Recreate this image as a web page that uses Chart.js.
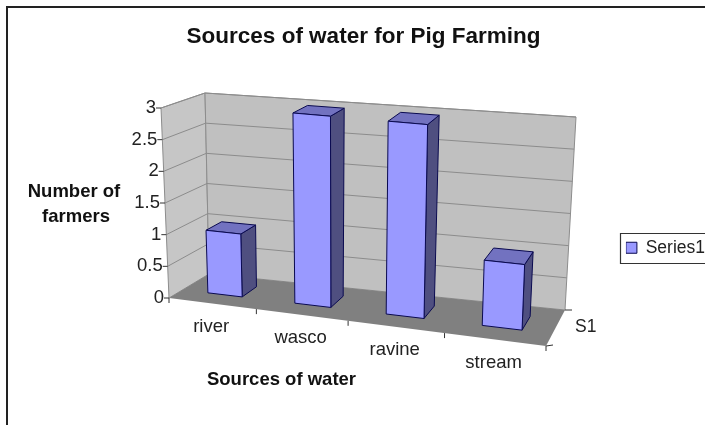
<!DOCTYPE html>
<html><head><meta charset="utf-8">
<script src="https://cdn.jsdelivr.net/npm/chart.js@4"></script>
<style>html,body{margin:0;padding:0;background:#fff}canvas{display:block;filter:blur(0.55px)}</style>
</head><body><canvas id="c" width="705" height="425"></canvas>
<script>
const categories = ['river', 'wasco', 'ravine', 'stream'];
const seriesName = 'Series1';
const seriesValues = [1, 3, 3, 1];
const valueTicks = [0, 0.5, 1, 1.5, 2, 2.5, 3];
const chartTitle = 'Sources of water for Pig Farming';
const yTitleLines = ['Number of', 'farmers'];
const xTitle = 'Sources of water';
const depthLabel = 'S1';

// perspective frame of the 3D box (style/layout only)
const FL=[169,298], FR=[546,346], BR=[565,310], BL=[209,274];
const hFL=[-8,-190], hFR=[8,-200], hBL=[-4,-181], hBR=[11,-193];
const DEPTH=[0.34,0.73], PERSP=0.105;

function P(u,v,w){
  const f=u/(1+PERSP*(1-u));
  const fx=FL[0]+(FR[0]-FL[0])*f, fy=FL[1]+(FR[1]-FL[1])*f;
  const bx=BL[0]+(BR[0]-BL[0])*f, by=BL[1]+(BR[1]-BL[1])*f;
  const mix=i=>(hFL[i]*(1-f)+hFR[i]*f)*(1-w)+(hBL[i]*(1-f)+hBR[i]*f)*w;
  return [fx+(bx-fx)*w+v*mix(0),fy+(by-fy)*w+v*mix(1)];
}
function poly(ctx,pts,fill,stroke,lw){
  ctx.beginPath();pts.forEach((p,i)=>i?ctx.lineTo(p[0],p[1]):ctx.moveTo(p[0],p[1]));ctx.closePath();
  if(fill){ctx.fillStyle=fill;ctx.fill();}
  if(stroke){ctx.strokeStyle=stroke;ctx.lineWidth=lw||1;ctx.stroke();}
}
function seg(ctx,a,b,c,lw){ctx.beginPath();ctx.moveTo(a[0],a[1]);ctx.lineTo(b[0],b[1]);ctx.strokeStyle=c;ctx.lineWidth=lw||1;ctx.stroke();}
function txt(ctx,s,x,y,font,align,color){ctx.font=font;ctx.textAlign=align;ctx.textBaseline='middle';ctx.fillStyle=color||'#111';ctx.fillText(s,x,y);}

const scene={
  id:'scene',
  afterLayout(chart){chart.legend.left+=10;},
  beforeDatasetDraw(){return false;},
  beforeDatasetsDraw(chart){
    const ctx=chart.ctx,xS=chart.scales.x,yS=chart.scales.y,A=chart.chartArea;
    const U=px=>(px-A.left)/A.width, V=px=>(A.bottom-px)/A.height;
    ctx.save();
    // frame
    ctx.beginPath();ctx.moveTo(7,425);ctx.lineTo(7,7);ctx.lineTo(705,7);ctx.strokeStyle='#222';ctx.lineWidth=2;ctx.stroke();
    // legend border
    const hb=chart.legend.legendHitBoxes[0], cy=hb.top+hb.height/2;
    const lt=Math.round(cy-15)+.5, lb=Math.round(cy+15)+.5, ll=620.5;
    ctx.strokeStyle='#333';ctx.lineWidth=1.2;ctx.beginPath();ctx.moveTo(706,lt);ctx.lineTo(ll,lt);ctx.lineTo(ll,lb);ctx.lineTo(706,lb);ctx.stroke();
    // walls and floor
    poly(ctx,[P(0,0,0),P(0,1,0),P(0,1,1),P(0,0,1)],'#c6c6c6','#8c8c8c');
    poly(ctx,[P(0,0,1),P(0,1,1),P(1,1,1),P(1,0,1)],'#c0c0c0','#8c8c8c');
    poly(ctx,[P(0,0,0),P(1,0,0),P(1,0,1),P(0,0,1)],'#808080');
    // grid, y ticks and y labels
    yS.ticks.forEach(t=>{
      const v=V(yS.getPixelForValue(t.value));
      if(v>0){seg(ctx,P(0,v,0),P(0,v,1),'#8c8c8c');seg(ctx,P(0,v,1),P(1,v,1),'#8c8c8c');}
      const p=P(0,v,0);
      seg(ctx,[p[0]-5,p[1]],p,'#333');
      txt(ctx,t.label,p[0]-5,p[1],'18.5px "Liberation Sans"','right','#222');
    });
    // x ticks and labels
    const n=categories.length;
    for(let i=0;i<=n;i++){
      const p=P(i/n,0,0);
      seg(ctx,p,[p[0],p[1]+5],'#333');
    }
    xS.ticks.forEach(t=>{
      const p=P(U(xS.getPixelForValue(t.value)),0,0);
      txt(ctx,t.label,p[0]-1,p[1]+23.5,'18.5px "Liberation Sans"','center','#222');
    });
    // depth ticks and label
    const d0=P(1,0,0),d1=P(1,0,1);
    seg(ctx,d0,[d0[0]+7,d0[1]-1],'#333');seg(ctx,d1,[d1[0]+7,d1[1]],'#333');
    txt(ctx,depthLabel,575,327,'17.5px "Liberation Sans"','left','#222');
    // bars
    chart.getDatasetMeta(0).data.forEach(b=>{
      const pr=b.getProps(['x','y','base','width'],true);
      const u0=U(pr.x-pr.width/2),u1=U(pr.x+pr.width/2),v=V(pr.y),[w0,w1]=DEPTH,ol='#0a0a50';
      poly(ctx,[P(u1,0,w0),P(u1,0,w1),P(u1,v,w1),P(u1,v,w0)],'#4f4f80',ol);
      poly(ctx,[P(u0,v,w0),P(u1,v,w0),P(u1,v,w1),P(u0,v,w1)],'#7272c0',ol);
      poly(ctx,[P(u0,0,w0),P(u1,0,w0),P(u1,v,w0),P(u0,v,w0)],'#9999ff',ol);
    });
    // axis titles
    txt(ctx,yTitleLines[0],74,192,'bold 18.5px "Liberation Sans"','center','#111');
    txt(ctx,yTitleLines[1],76,217,'bold 18.5px "Liberation Sans"','center','#111');
    txt(ctx,xTitle,281.5,380,'bold 18.5px "Liberation Sans"','center','#111');
    ctx.restore();
  }
};

new Chart(document.getElementById('c'),{
  type:'bar',
  data:{labels:categories,datasets:[{label:seriesName,data:seriesValues,backgroundColor:'#9999ff',borderColor:'#0a0a50',borderWidth:1,barPercentage:0.4,categoryPercentage:1}]},
  plugins:[scene],
  options:{
    responsive:false,animation:false,
    layout:{padding:{left:22,top:0,right:0,bottom:0}},
    scales:{
      x:{display:false},
      y:{display:false,min:0,max:3,afterBuildTicks:s=>{s.ticks=valueTicks.map(v=>({value:v}));},ticks:{callback:v=>String(v)}}
    },
    plugins:{
      tooltip:{enabled:false},
      title:{display:true,text:chartTitle,color:'#111',font:{family:'"Liberation Sans"',size:22.5,weight:'bold'},padding:{top:23.5,bottom:20}},
      legend:{display:true,position:'right',fullSize:false,labels:{color:'#222',boxWidth:11,boxHeight:11,padding:0,font:{family:'"Liberation Sans"',size:17.5}}}
    }
  }
});
</script></body></html>
